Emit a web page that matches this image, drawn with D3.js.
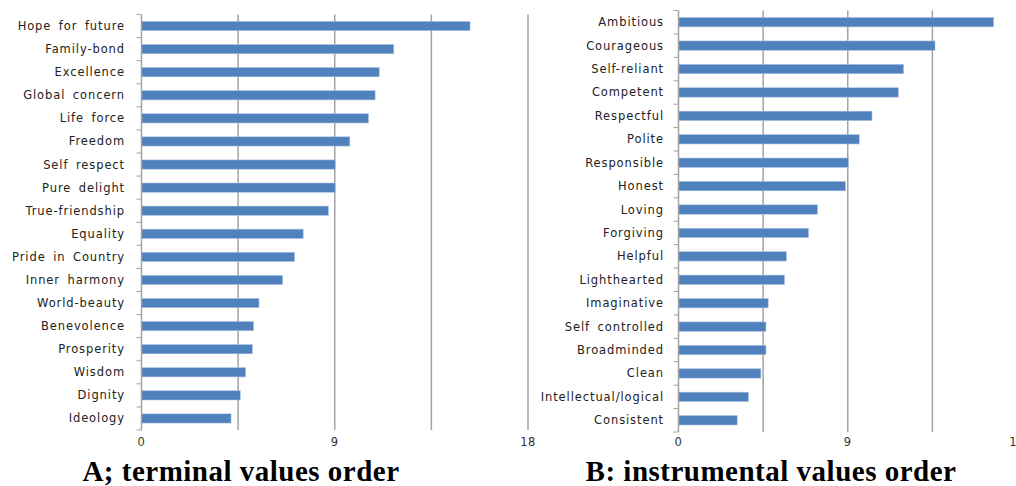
<!DOCTYPE html>
<html lang="en">
<head>
<meta charset="UTF-8">
<title>Terminal and instrumental values order</title>
<script src="https://cdn.jsdelivr.net/npm/d3@7"></script>
<style>
    body{ margin:0; background:#fff; }
    .cat{ font-family:"DejaVu Sans", Verdana, sans-serif; font-size:11.5px; fill:#222; letter-spacing:0.9px; word-spacing:3px; }
    .tick{ font-family:"DejaVu Sans", Verdana, sans-serif; font-size:11.5px; fill:#333; letter-spacing:0.5px; }
    .title{ font-family:"Liberation Serif", "DejaVu Serif", serif; font-weight:bold; font-size:29px; fill:#000; letter-spacing:0.5px; }
</style>
</head>
<body>
<script>
    // ---- data ----
    const terminalLabels = ["Hope for future","Family-bond","Excellence","Global concern","Life force","Freedom",
        "Self respect","Pure delight","True-friendship","Equality","Pride in Country","Inner harmony",
        "World-beauty","Benevolence","Prosperity","Wisdom","Dignity","Ideology"];
    const terminalValues = [15.3,11.75,11.07,10.88,10.57,9.7,9.02,9.02,8.7,7.53,7.13,6.57,5.47,5.22,5.16,4.85,4.6,4.17];

    const instrumentalLabels = ["Ambitious","Courageous","Self-reliant","Competent","Respectful","Polite",
        "Responsible","Honest","Loving","Forgiving","Helpful","Lighthearted","Imaginative",
        "Self controlled","Broadminded","Clean","Intellectual/logical","Consistent"];
    const instrumentalValues = [16.76,13.64,11.97,11.69,10.29,9.61,9.03,8.88,7.39,6.91,5.74,5.64,4.77,4.65,4.65,4.38,3.72,3.12];

    const gridValues = [4.5,9,13.5,18];
    const tickLabels = [0,9,18];

    const W = 1016, H = 486;
    const svg = d3.select("body").append("svg").attr("width",W).attr("height",H);

    // one panel per chart
    function panel(labels, values, title, box){
        const g = svg.append("g");
        const x = d3.scaleLinear().domain([0,18]).range([box.left, box.right]);
        const y = d3.scaleBand().domain(labels).range([box.top, box.bottom]).paddingInner(0.6).paddingOuter(0.3);
        const step = y.step();

        // gridlines
        g.selectAll(".grid").data(gridValues).join("line")
            .attr("x1",d=>x(d)).attr("x2",d=>x(d))
            .attr("y1",box.top).attr("y2",box.bottom)
            .attr("stroke","#a3a3a3").attr("stroke-width",1.5);

        // bars
        g.selectAll(".bar").data(values).join("rect")
            .attr("x",x(0))
            .attr("y",(d,i)=>y(labels[i]))
            .attr("width",d=>x(d)-x(0))
            .attr("height",y.bandwidth())
            .attr("fill","#4f81bd")
            .attr("stroke","#a9c0e0").attr("stroke-width",0.6);

        // vertical axis line + category ticks
        g.append("line").attr("x1",x(0)).attr("x2",x(0)).attr("y1",box.top).attr("y2",box.bottom)
            .attr("stroke","#a3a3a3").attr("stroke-width",1.5);
        g.selectAll(".ctick").data(d3.range(labels.length+1)).join("line")
            .attr("x1",x(0)-5).attr("x2",x(0))
            .attr("y1",i=>box.top+i*step).attr("y2",i=>box.top+i*step)
            .attr("stroke","#a3a3a3").attr("stroke-width",1);

        // category labels
        g.selectAll(".cat").data(labels).join("text").attr("class","cat")
            .attr("x",box.labelRight)
            .attr("y",d=>y(d)+y.bandwidth()/2)
            .attr("dy","0.35em")
            .attr("text-anchor","end")
            .text(d=>d);

        // value ticks
        g.selectAll(".tick").data(tickLabels).join("text").attr("class","tick")
            .attr("x",d=>x(d)).attr("y",box.tickY)
            .attr("text-anchor","middle")
            .text(d=>d);

        svg.append("text").attr("class","title")
            .attr("x",box.titleX).attr("y",481)
            .attr("text-anchor","middle")
            .text(title);
    }

    panel(terminalLabels, terminalValues, "A; terminal values order",
        {left:141.5, right:528, top:14.5, bottom:430, labelRight:125, tickY:446, titleX:241});
    panel(instrumentalLabels, instrumentalValues, "B: instrumental values order",
        {left:678.5, right:1017, top:10.5, bottom:432, labelRight:664, tickY:446, titleX:771});
</script>
</body>
</html>
